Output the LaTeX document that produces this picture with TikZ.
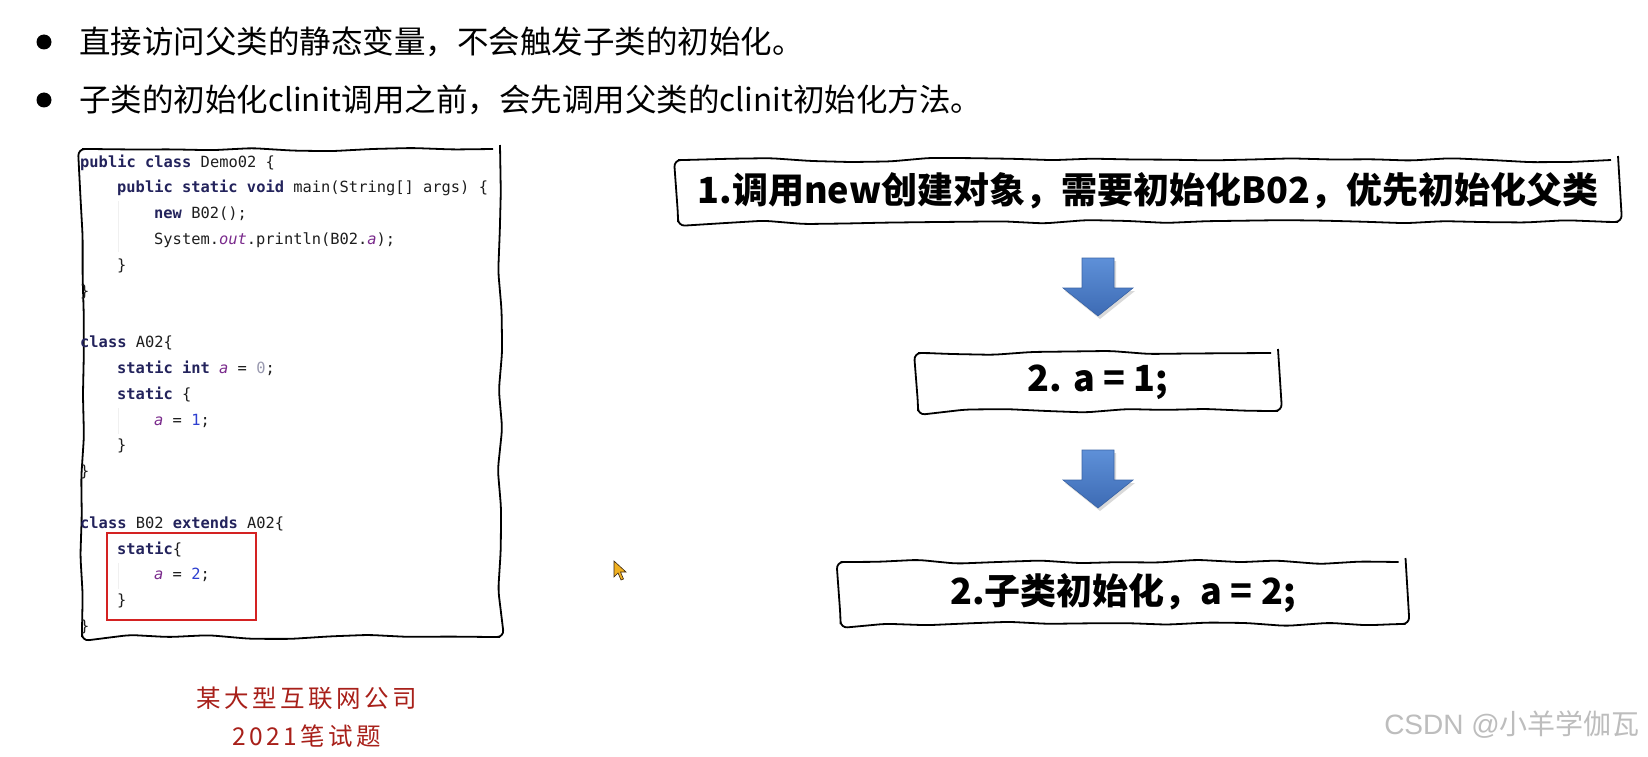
\documentclass[tikz,border=0pt]{standalone}
\usepackage{fontspec}
\newfontfamily\cjk{Noto Sans CJK SC}
\newfontfamily\capfont[LetterSpace=14]{Noto Sans CJK SC}
\newfontfamily\wmfont{Liberation Sans}
\newfontfamily\codefont{DejaVu Sans Mono}
\usetikzlibrary{decorations.pathmorphing}
\definecolor{kw}{HTML}{23235C}
\definecolor{codetxt}{HTML}{1E1E1E}
\definecolor{vp}{HTML}{7A2A8C}
\definecolor{nb}{HTML}{2D3FD0}
\definecolor{zr}{HTML}{9A9AB0}
\definecolor{hlred}{HTML}{D42222}
\definecolor{capred}{HTML}{A8201A}
\definecolor{wmgray}{HTML}{BDBDBD}
\definecolor{arrtop}{HTML}{5E90D8}
\definecolor{arrbot}{HTML}{3D6BB4}
\definecolor{arredge}{HTML}{3A64A6}
\definecolor{cursorfill}{HTML}{F0B020}
\newcommand\kwd[1]{{\bfseries\color{kw}#1}}
\newcommand\vr[1]{{\itshape\color{vp}#1}}
\newcommand\nm[1]{{\color{nb}#1}}
\newcommand\zro[1]{{\color{zr}#1}}
\tikzset{
  sketch/.style={draw=black, line width=1.8pt, decorate,
    decoration={random steps, segment length=40pt, amplitude=2.2pt}, rounded corners=7pt},
  codeline/.style={anchor=base west, inner sep=0pt, text=codetxt,
    font=\codefont\fontsize{15.4}{18}\selectfont},
  bullettext/.style={anchor=west, inner sep=0pt, font=\cjk\fontsize{31.5}{35}\selectfont},
  boxtext/.style={sketch, inner sep=0pt, font=\cjk\bfseries\fontsize{36}{40}\selectfont},
  caption/.style={inner sep=0pt, text=capred, font=\capfont\fontsize{24.5}{28}\selectfont},
  blockarrow/.pic={
    \fill[black, opacity=0.15] (-14,3) -- (18,3) -- (18,33) -- (37,33) -- (2,61) -- (-33,33) -- (-14,33) -- cycle;
    \shade[top color=arrtop, bottom color=arrbot, draw=arredge, line width=0.6pt]
      (-16,0) -- (16,0) -- (16,30) -- (35,30) -- (0,58) -- (-35,30) -- (-16,30) -- cycle;
  }
}
\begin{document}
\begin{tikzpicture}[x=1pt, y=-1pt]
\pgfmathsetseed{7}
\useasboundingbox (0,0) rectangle (1648,757);
\fill[white] (0,0) rectangle (1648,757);

% bullets
\fill (44,42) circle (7.5);
\fill (44,100) circle (7.5);
\node[bullettext] (b1) at (79,42) {直接访问父类的静态变量，不会触发子类的初始化。};
\node[bullettext] (b2) at (79,100) {子类的初始化clinit调用之前，会先调用父类的clinit初始化方法。};

% code box
\node[sketch, minimum width=418pt, minimum height=488pt, inner sep=0pt] (code) at (291,393) {};
\draw[gray!12, line width=1pt] (118,201) -- (118,252);
\draw[gray!12, line width=1pt] (118,408) -- (118,434);
\draw[gray!12, line width=1pt] (118,563) -- (118,589);
\node[codeline] (l1)  at (80,{167+0*25.8})  {\kwd{public class} Demo02 \{};
\node[codeline] (l2)  at (117,{167+1*25.8}) {\kwd{public static void} main(String[] args) \{};
\node[codeline] (l3)  at (154,{167+2*25.8}) {\kwd{new} B02();};
\node[codeline] (l4)  at (154,{167+3*25.8}) {System.\vr{out}.println(B02.\vr{a});};
\node[codeline] (l5)  at (117,{167+4*25.8}) {\}};
\node[codeline] (l6)  at (80,{167+5*25.8})  {\}};
\node[codeline] (l8)  at (80,{167+7*25.8})  {\kwd{class} A02\{};
\node[codeline] (l9)  at (117,{167+8*25.8}) {\kwd{static int} \vr{a} = \zro{0};};
\node[codeline] (l10) at (117,{167+9*25.8}) {\kwd{static} \{};
\node[codeline] (l11) at (154,{167+10*25.8}) {\vr{a} = \nm{1};};
\node[codeline] (l12) at (117,{167+11*25.8}) {\}};
\node[codeline] (l13) at (80,{167+12*25.8})  {\}};
\node[codeline] (l15) at (80,{167+14*25.8})  {\kwd{class} B02 \kwd{extends} A02\{};
\node[codeline] (l16) at (117,{167+15*25.8}) {\kwd{static}\{};
\node[codeline] (l17) at (154,{167+16*25.8}) {\vr{a} = \nm{2};};
\node[codeline] (l18) at (117,{167+17*25.8}) {\}};
\node[codeline] (l19) at (80,{167+18*25.8})  {\}};
\node[draw=hlred, line width=2.6pt, minimum width=149pt, minimum height=87pt, inner sep=0pt] (hl) at (181.5,576.5) {};

% captions
\node[caption] (cap1) at (307,698) {某大型互联网公司};
\node[caption] (cap2) at (307,736) {2021笔试题};

% right-hand flow
\node[boxtext, minimum width=940pt, minimum height=62pt] (s1) at (1148,191) {1.调用new创建对象，需要初始化B02，优先初始化父类};
\node[boxtext, minimum width=360pt, minimum height=58pt] (s2) at (1098,382) {2. a = 1;};
\node[boxtext, minimum width=565pt, minimum height=62pt] (s3) at (1123,593) {2.子类初始化，a = 2;};
\pic at (1098,258) {blockarrow};
\pic at (1098,450) {blockarrow};

% mouse cursor
\filldraw[fill=cursorfill, draw=black!70!brown, line width=0.6pt]
  (614,561) -- (614,577) -- (618,573) -- (621,580) -- (623.5,579) -- (620.5,572) -- (626,572) -- cycle;

% watermark
\node[anchor=east, inner sep=0pt, text=wmgray] (wm) at (1640,725)
  {\wmfont\fontsize{28}{30}\selectfont CSDN @\cjk 小羊学伽瓦};
\end{tikzpicture}
\end{document}
